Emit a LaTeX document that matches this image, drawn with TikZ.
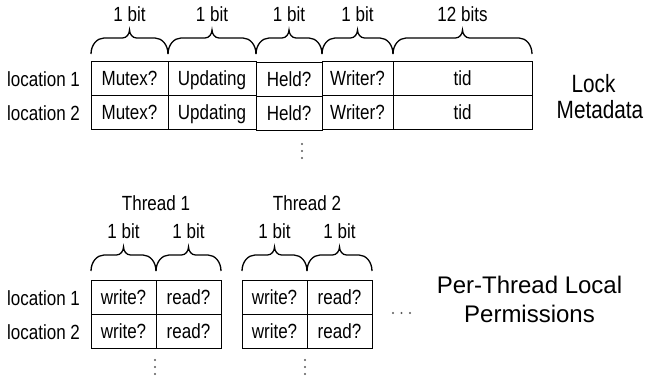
\documentclass[tikz,border=0pt]{standalone}
\usepackage{fontspec}
\setmainfont{Liberation Sans}[FakeStretch=0.83]
\newfontfamily\widesans{Liberation Sans}
\newcommand\bitbrace[3]{% x1, x2, y of the ends
  \draw[bracestyle] (#1,#3)
    .. controls (#1,{#3-9}) and ({#1+6},{#3-16}) .. ({#1+13},{#3-16})
    -- ({(#1+#2)/2-7},{#3-16})
    .. controls ({(#1+#2)/2-3},{#3-16}) and ({(#1+#2)/2},{#3-20}) .. ({(#1+#2)/2},{#3-24})
    .. controls ({(#1+#2)/2},{#3-20}) and ({(#1+#2)/2+3},{#3-16}) .. ({(#1+#2)/2+7},{#3-16})
    -- ({#2-13},{#3-16})
    .. controls ({#2-6},{#3-16}) and (#2,{#3-9}) .. (#2,#3);}
\begin{document}
\begin{tikzpicture}[x=1pt,y=-1pt,
  cell/.style={draw, line width=1pt, minimum width=#1, minimum height=34,
    inner sep=0pt, text height=14.5pt, text depth=0pt,
    font=\fontsize{20.5}{24}\selectfont},
  lbl/.style={inner sep=0pt, anchor=base, font=\fontsize{20.5}{24}\selectfont},
  big/.style={inner sep=0pt, anchor=base, font=\fontsize{25}{28}\selectfont},
  wide/.style={inner sep=0pt, anchor=base, font=\widesans\fontsize{24}{28}\selectfont},
  bracestyle/.style={line width=1.3pt},
  dotc/.style={fill=black!65}]
\useasboundingbox (0,0) rectangle (645,378);

% ---------- Lock metadata ----------
\node[cell=77]  (mu1) at (129.5,78) {Mutex?};
\node[cell=88]  (up1) at (212,78)   {Updating};
\node[cell=66]  (he1) at (289,79)   {Held?};
\node[cell=71]  (wr1) at (357.5,78) {Writer?};
\node[cell=139] (ti1) at (462.5,78) {tid};
\node[cell=77]  (mu2) at (129.5,112) {Mutex?};
\node[cell=88]  (up2) at (212,112)   {Updating};
\node[cell=66]  (he2) at (289,113)   {Held?};
\node[cell=71]  (wr2) at (357.5,112) {Writer?};
\node[cell=139] (ti2) at (462.5,112) {tid};

\node[lbl] (loc1) at (43.5,86)  {location 1};
\node[lbl] (loc2) at (43.5,120) {location 2};

\node[lbl] (b1) at (129.5,21) {1 bit};
\node[lbl] (b2) at (212,21)   {1 bit};
\node[lbl] (b3) at (289,21)   {1 bit};
\node[lbl] (b4) at (357.5,21) {1 bit};
\node[lbl] (b5) at (462.5,21) {12 bits};

\bitbrace{91}{168}{54}
\bitbrace{168}{256}{54}
\bitbrace{256}{322}{54}
\bitbrace{322}{393}{54}
\bitbrace{393}{532}{54}

\fill[dotc] (302,144) circle (1.1);
\fill[dotc] (302,151) circle (1.1);
\fill[dotc] (302,158) circle (1.1);

\node[big] (lock) at (593.5,92)  {Lock};
\node[big] (meta) at (600,118)   {Metadata};

% ---------- Per-thread permissions ----------
\node[cell=65] (w11) at (123.5,297) {write?};
\node[cell=65] (r11) at (188.5,297) {read?};
\node[cell=65] (w12) at (123.5,331) {write?};
\node[cell=65] (r12) at (188.5,331) {read?};
\node[cell=65] (w21) at (274.5,297) {write?};
\node[cell=65] (r21) at (339.5,297) {read?};
\node[cell=65] (w22) at (274.5,331) {write?};
\node[cell=65] (r22) at (339.5,331) {read?};

\node[lbl] (loc3) at (43.5,305) {location 1};
\node[lbl] (loc4) at (43.5,339) {location 2};

\node[lbl] (t1) at (156,210) {Thread 1};
\node[lbl] (t2) at (307,210) {Thread 2};

\node[lbl] (c1) at (123.5,238) {1 bit};
\node[lbl] (c2) at (188.5,238) {1 bit};
\node[lbl] (c3) at (274.5,238) {1 bit};
\node[lbl] (c4) at (339.5,238) {1 bit};

\bitbrace{91}{156}{271}
\bitbrace{156}{221}{271}
\bitbrace{242}{307}{271}
\bitbrace{307}{372}{271}

\fill[dotc] (155,360) circle (1.1);
\fill[dotc] (155,367) circle (1.1);
\fill[dotc] (155,374) circle (1.1);
\fill[dotc] (305,360) circle (1.1);
\fill[dotc] (305,367) circle (1.1);
\fill[dotc] (305,374) circle (1.1);

\fill[dotc] (393,313) circle (1.1);
\fill[dotc] (401.5,313) circle (1.1);
\fill[dotc] (410,313) circle (1.1);

\node[wide] (ptl)  at (529.5,293) {Per-Thread Local};
\node[wide] (perm) at (529.5,322) {Permissions};
\end{tikzpicture}
\end{document}
